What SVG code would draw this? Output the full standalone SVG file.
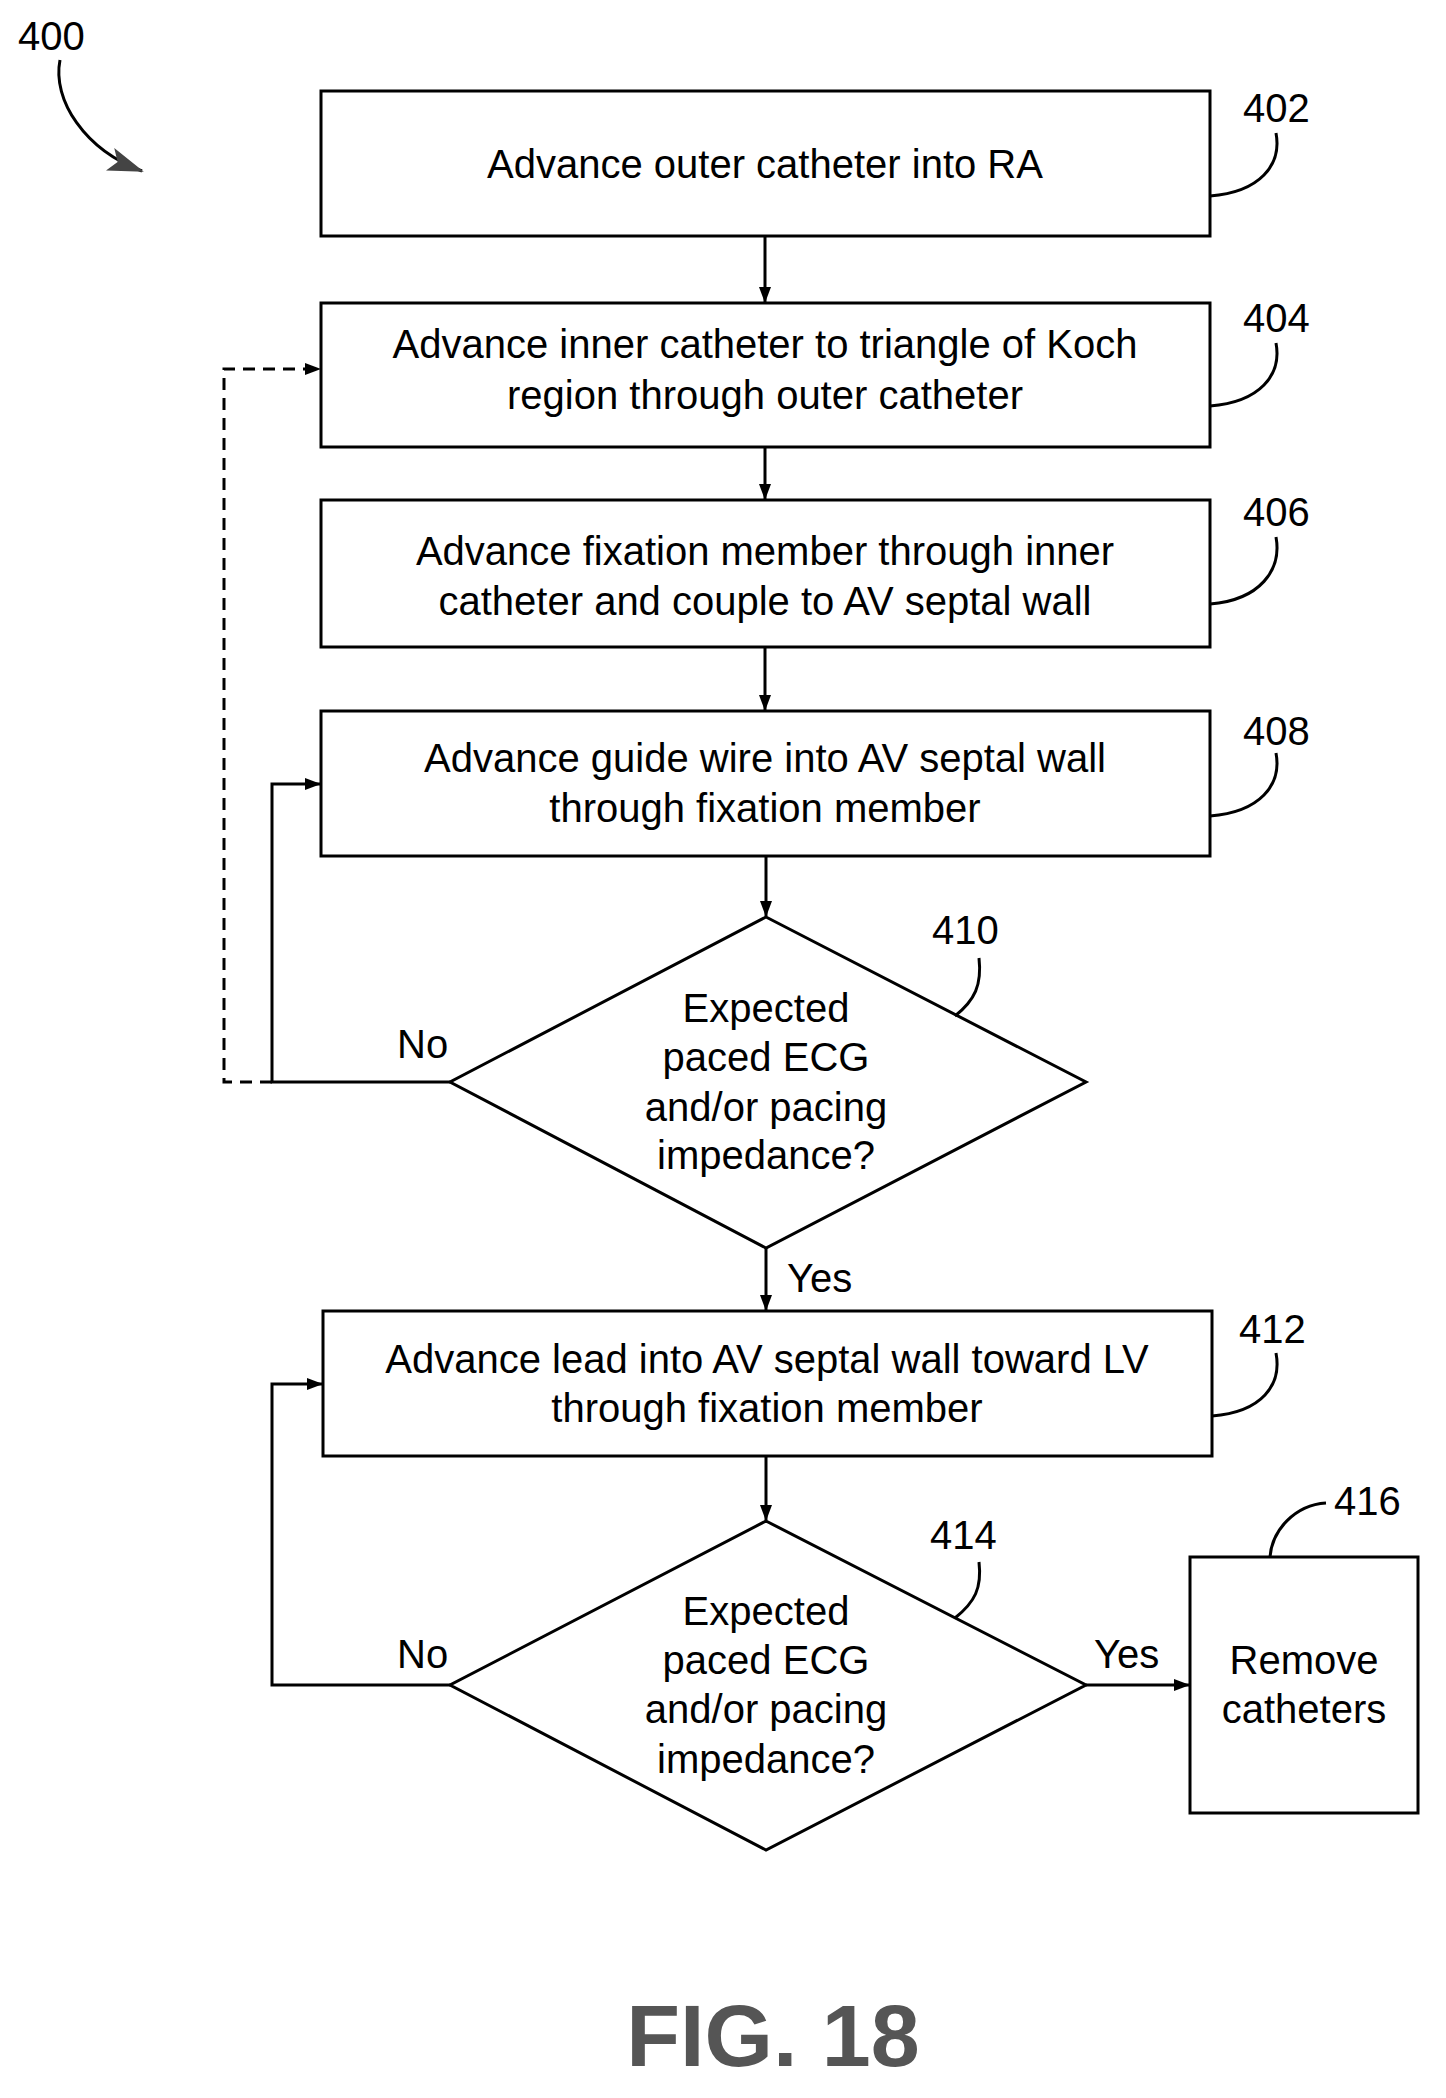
<svg xmlns="http://www.w3.org/2000/svg" width="1446" height="2098" viewBox="0 0 1446 2098">
<style>
.b{fill:#fff;stroke:#000;stroke-width:3}
.l{fill:none;stroke:#000;stroke-width:3}
.d{fill:none;stroke:#000;stroke-width:3;stroke-dasharray:12,8}
.t{font-family:"Liberation Sans Narrow","Liberation Sans",sans-serif;font-size:40px;text-anchor:middle;fill:#000}
.n{font-family:"Liberation Sans Narrow","Liberation Sans",sans-serif;font-size:40px;fill:#000}
</style>
<defs><marker id="a" markerWidth="16" markerHeight="16" refX="15" refY="8" orient="auto" markerUnits="userSpaceOnUse" viewBox="0 0 16 16"><path d="M0,2 L16,8 L0,14 Z" fill="#000"/></marker>
<marker id="a2" markerWidth="36" markerHeight="28" refX="34" refY="14" orient="auto" markerUnits="userSpaceOnUse" viewBox="0 0 36 28"><path d="M0,2 L36,14 L0,26 L8,14 Z" fill="#444"/></marker></defs>
<text class="n" x="18" y="50">400</text>
<path class="l" d="M60,60 C52,100 85,150 142,171" marker-end="url(#a2)"/>
<g id="n402"><rect class="b" x="321" y="91" width="889" height="145"/><text class="t" x="765" y="178">Advance outer catheter into RA</text>
<text class="n" x="1243" y="122">402</text><path class="l" d="M1210,196 C1260,192 1282,165 1276,133"/></g>
<g id="n404"><rect class="b" x="321" y="303" width="889" height="144"/><text class="t" x="765" y="358">Advance inner catheter to triangle of Koch</text><text class="t" x="765" y="409">region through outer catheter</text>
<text class="n" x="1243" y="332">404</text><path class="l" d="M1210,406 C1260,402 1282,375 1276,343"/></g>
<g id="n406"><rect class="b" x="321" y="500" width="889" height="147"/><text class="t" x="765" y="565">Advance fixation member through inner</text><text class="t" x="765" y="615">catheter and couple to AV septal wall</text>
<text class="n" x="1243" y="526">406</text><path class="l" d="M1210,604 C1260,600 1282,570 1276,537"/></g>
<g id="n408"><rect class="b" x="321" y="711" width="889" height="145"/><text class="t" x="765" y="772">Advance guide wire into AV septal wall</text><text class="t" x="765" y="822">through fixation member</text>
<text class="n" x="1243" y="745">408</text><path class="l" d="M1210,816 C1260,812 1282,785 1276,753"/></g>
<g id="n410"><polygon class="b" points="766,917 1086,1082 766,1248 450,1082"/>
<text class="t" x="766" y="1022">Expected</text><text class="t" x="766" y="1071">paced ECG</text><text class="t" x="766" y="1121">and/or pacing</text><text class="t" x="766" y="1169">impedance?</text>
<text class="n" x="932" y="944">410</text><path class="l" d="M955,1016 C975,1000 982,985 979,958"/></g>
<g id="n412"><rect class="b" x="323" y="1311" width="889" height="145"/><text class="t" x="767" y="1373">Advance lead into AV septal wall toward LV</text><text class="t" x="767" y="1422">through fixation member</text>
<text class="n" x="1239" y="1343">412</text><path class="l" d="M1212,1416 C1262,1412 1282,1385 1276,1353"/></g>
<g id="n414"><polygon class="b" points="766,1521 1086,1685 766,1850 450,1685"/>
<text class="t" x="766" y="1625">Expected</text><text class="t" x="766" y="1674">paced ECG</text><text class="t" x="766" y="1723">and/or pacing</text><text class="t" x="766" y="1773">impedance?</text>
<text class="n" x="930" y="1549">414</text><path class="l" d="M955,1618 C975,1602 982,1588 979,1562"/></g>
<g id="n416"><rect class="b" x="1190" y="1557" width="228" height="256"/><text class="t" x="1304" y="1674">Remove</text><text class="t" x="1304" y="1723">catheters</text>
<text class="n" x="1334" y="1515">416</text><path class="l" d="M1270,1557 C1272,1530 1295,1505 1326,1503"/></g>
<g id="connectors">
<line class="l" x1="765" y1="236" x2="765" y2="302" marker-end="url(#a)"/>
<line class="l" x1="765" y1="447" x2="765" y2="499" marker-end="url(#a)"/>
<line class="l" x1="765" y1="647" x2="765" y2="710" marker-end="url(#a)"/>
<line class="l" x1="766" y1="856" x2="766" y2="916" marker-end="url(#a)"/>
<path class="l" d="M450,1082 H272 V784 H320" marker-end="url(#a)"/>
<path class="d" d="M272,1082 H224 V369 H320" marker-end="url(#a)"/>
<line class="l" x1="766" y1="1248" x2="766" y2="1310" marker-end="url(#a)"/>
<line class="l" x1="766" y1="1456" x2="766" y2="1520" marker-end="url(#a)"/>
<path class="l" d="M450,1685 H272 V1384 H322" marker-end="url(#a)"/>
<line class="l" x1="1086" y1="1685" x2="1189" y2="1685" marker-end="url(#a)"/>
<text class="n" x="397" y="1058">No</text>
<text class="n" x="787" y="1292">Yes</text>
<text class="n" x="397" y="1668">No</text>
<text class="n" x="1094" y="1668">Yes</text>
</g>
<text x="773" y="2066" style="font-family:'Liberation Sans',sans-serif;font-size:88px;font-weight:bold;text-anchor:middle;fill:#555">FIG. 18</text>
</svg>
